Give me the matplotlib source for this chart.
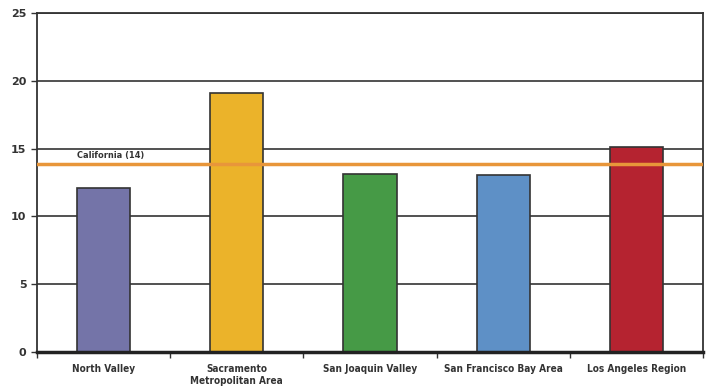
import matplotlib.pyplot as plt

regions = ["North Valley", "Sacramento\nMetropolitan Area", "San Joaquin Valley",
           "San Francisco Bay Area", "Los Angeles Region"]
values = [12.1, 19.1, 13.1, 13.05, 15.1]
colors = ["#7474A8", "#EBB32A", "#469A46", "#5E90C6", "#B52330"]
state_value = 13.85
state_label = "California (14)"
yticks = [0, 5, 10, 15, 20, 25]

fig = plt.figure(figsize=(7.11, 3.88), dpi=100)
ax = fig.add_axes([0.052, 0.093, 0.937, 0.873])

x = range(len(regions))
ax.set_axisbelow(True)
ax.yaxis.grid(True, color="#222222", linewidth=1.1)
ax.bar(x, values, width=0.4, color=colors, edgecolor="#333333", linewidth=1.2, zorder=2)
ax.axhline(state_value, color="#E8963A", linewidth=2.5, zorder=3)
ax.text(-0.2, state_value + 0.35, state_label, fontsize=6.6, fontweight="bold",
        fontstretch="condensed", color="#333333", va="bottom", ha="left")

ax.set_xlim(-0.5, len(regions) - 0.5)
ax.set_ylim(0, 25)
ax.set_yticks(yticks)
ax.set_xticks(list(x))
ax.set_xticklabels(regions, fontsize=7.2, fontweight="bold", fontstretch="condensed",
                   color="#333333")
ax.tick_params(axis="x", length=0, pad=9)
ax.set_xticks([i + 0.5 for i in range(-1, len(regions))], minor=True)
ax.tick_params(axis="x", which="minor", length=4, width=1, color="#333333", direction="out")
ax.tick_params(axis="y", length=4, width=1, color="#333333", labelsize=8,
               labelcolor="#333333")
for lbl in ax.get_yticklabels():
    lbl.set_fontweight("bold")

for side in ["left", "right", "top"]:
    ax.spines[side].set_color("#333333")
    ax.spines[side].set_linewidth(1.3)
ax.spines["bottom"].set_color("#222222")
ax.spines["bottom"].set_linewidth(2.5)

fig.savefig("out.png", dpi=100)
